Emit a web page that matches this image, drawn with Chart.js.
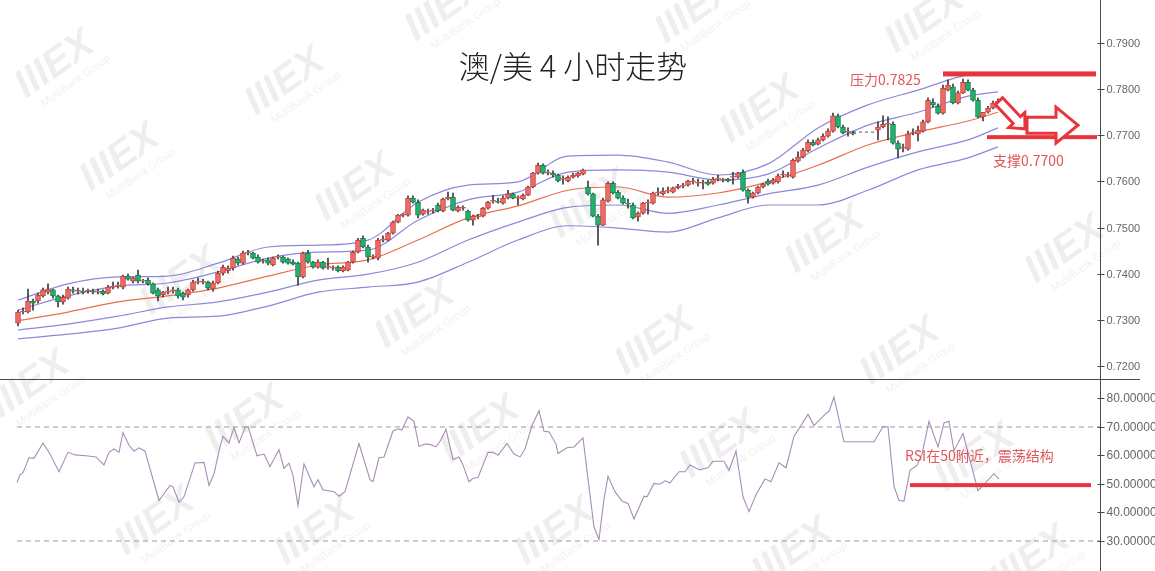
<!DOCTYPE html>
<html>
<head>
<meta charset="utf-8">
<script src="https://cdn.jsdelivr.net/npm/chart.js@4.4.1/dist/chart.umd.min.js"></script>
<style>
  html, body { margin: 0; padding: 0; background: #fff; }
  #wrap { position: relative; width: 1155px; height: 571px; overflow: hidden; }
  #priceChart { position: absolute; left: 0; top: 0; }
  #rsiChart { position: absolute; left: 0; top: 379px; }
</style>
</head>
<body>
<div id="wrap">
  <canvas id="priceChart" width="1155" height="379"></canvas>
  <canvas id="rsiChart" width="1155" height="192"></canvas>
</div>
<script>
// AUD/USD 4h candles (index = bar number, null = no bar)
const opens = [
  .7293,.7317,.7317,.7341,.7341,.7352,.7360,.7365,.7352,.7339,.7347,.7365,.7362,.7362,.7362,.7362,.7360,.7362,.7358,.7371,
  .7373,.7371,.7395,.7384,.7397,.7384,.7386,.7378,.7365,.7354,.7360,.7362,.7365,.7358,.7354,.7365,.7382,.7382,.7382,.7367,
  .7380,.7401,.7406,.7412,.7432,.7423,.7445,.7445,.7436,.7427,.7430,.7419,.7436,.7436,.7432,.7425,.7423,.7393,.7445,.7425,
  .7414,.7425,.7414,.7412,.7414,.7406,.7408,.7425,.7447,.7477,.7458,.7436,.7434,.7473,.7473,.7488,.7512,.7527,.7527,.7564,
  .7555,.7529,.7534,.7536,.7549,.7536,.7562,.7566,.7536,.7542,.7536,.7516,.7523,.7525,.7542,.7557,.7557,.7553,.7564,.7573,
  .7564,.7562,.7570,.7588,.7618,.7635,.7618,.7618,.7614,.7605,.7601,.7609,.7612,.7616,.7588,.7573,.7525,.7505,.7557,.7596,
  .7577,.7564,.7553,.7549,.7523,.7531,.7553,.7553,.7575,.7573,.7579,.7577,.7586,.7590,.7592,.7599,.7596,.7596,.7599,.7596,
  .7605,.7603,.7605,.7609,.7609,.7620,.7581,.7566,.7575,.7588,.7601,.7596,.7599,.7614,.7612,.7609,.7644,.7653,.7666,.7685,
  .7681,.7690,.7698,.7709,.7742,.7718,.7707,.7705,null,null,null,null,.7711,.7718,.7724,.7724,.7683,.7672,.7670,.7705,
  .7703,.7709,.7729,.7772,.7763,.7748,.7798,.7805,.7770,.7792,.7815,.7798,.7776,.7740,.7750,.7759,.7768
];
const highs = [
  .7321,.7326,.7367,.7345,.7358,.7369,.7378,.7367,.7354,.7354,.7371,.7371,.7369,.7369,.7367,.7367,.7367,.7365,.7375,.7382,
  .7382,.7397,.7399,.7393,.7408,.7388,.7391,.7380,.7369,.7362,.7371,.7371,.7369,.7360,.7367,.7386,.7391,.7388,.7384,.7384,
  .7406,.7419,.7417,.7438,.7436,.7449,.7451,.7447,.7441,.7432,.7434,.7436,.7441,.7438,.7434,.7430,.7425,.7447,.7451,.7427,
  .7430,.7427,.7434,.7417,.7417,.7417,.7427,.7449,.7477,.7482,.7462,.7441,.7477,.7482,.7490,.7514,.7529,.7531,.7569,.7569,
  .7560,.7540,.7540,.7542,.7553,.7564,.7577,.7575,.7547,.7547,.7538,.7527,.7529,.7544,.7557,.7570,.7564,.7569,.7581,.7575,
  .7569,.7573,.7590,.7620,.7640,.7638,.7625,.7623,.7616,.7612,.7612,.7618,.7620,.7627,.7601,.7575,.7529,.7564,.7599,.7599,
  .7581,.7569,.7562,.7553,.7534,.7555,.7560,.7577,.7586,.7586,.7588,.7588,.7594,.7596,.7603,.7607,.7605,.7603,.7603,.7609,
  .7614,.7607,.7607,.7620,.7620,.7625,.7584,.7577,.7590,.7596,.7605,.7607,.7616,.7623,.7620,.7649,.7664,.7672,.7690,.7690,
  .7694,.7703,.7714,.7748,.7746,.7722,.7716,.7709,null,null,null,null,.7729,.7742,.7740,.7729,.7688,.7681,.7709,.7714,
  .7720,.7733,.7781,.7779,.7768,.7809,.7820,.7811,.7796,.7822,.7820,.7802,.7781,.7750,.7763,.7774,.7779
];
const lows = [
  .7287,.7313,.7315,.7321,.7336,.7349,.7356,.7347,.7328,.7334,.7345,.7358,.7356,.7356,.7358,.7356,.7356,.7354,.7356,.7367,
  .7369,.7367,.7386,.7380,.7380,.7380,.7375,.7356,.7341,.7349,.7356,.7358,.7347,.7343,.7349,.7362,.7378,.7378,.7365,.7362,
  .7378,.7397,.7401,.7408,.7419,.7421,.7441,.7432,.7423,.7423,.7419,.7417,.7432,.7423,.7421,.7419,.7375,.7391,.7423,.7412,
  .7412,.7410,.7410,.7408,.7404,.7404,.7406,.7423,.7445,.7456,.7425,.7432,.7430,.7469,.7471,.7486,.7510,.7523,.7525,.7553,
  .7521,.7527,.7529,.7531,.7534,.7534,.7560,.7536,.7534,.7538,.7514,.7505,.7519,.7523,.7540,.7553,.7553,.7551,.7562,.7562,
  .7549,.7560,.7569,.7586,.7616,.7616,.7614,.7609,.7599,.7594,.7599,.7607,.7609,.7614,.7570,.7523,.7462,.7504,.7555,.7573,
  .7562,.7551,.7542,.7519,.7514,.7529,.7529,.7551,.7570,.7570,.7575,.7575,.7584,.7586,.7590,.7594,.7590,.7584,.7592,.7594,
  .7601,.7599,.7599,.7594,.7607,.7579,.7553,.7564,.7573,.7586,.7592,.7594,.7596,.7609,.7609,.7607,.7642,.7651,.7664,.7677,
  .7679,.7688,.7696,.7707,.7716,.7703,.7698,.7701,null,null,null,null,.7690,.7716,.7690,.7681,.7651,.7664,.7668,.7701,
  .7688,.7707,.7727,.7761,.7746,.7746,.7796,.7768,.7768,.7790,.7796,.7774,.7738,.7731,.7748,.7757,.7766
];
const closes = [
  .7317,.7319,.7341,.7336,.7354,.7365,.7367,.7352,.7339,.7349,.7367,.7362,.7362,.7360,.7362,.7360,.7362,.7356,.7371,.7373,
  .7375,.7395,.7388,.7391,.7384,.7384,.7378,.7358,.7352,.7360,.7362,.7365,.7352,.7349,.7365,.7382,.7382,.7382,.7369,.7380,
  .7401,.7414,.7412,.7434,.7423,.7445,.7445,.7434,.7425,.7427,.7423,.7434,.7438,.7425,.7423,.7421,.7393,.7445,.7425,.7414,
  .7425,.7412,.7414,.7412,.7406,.7414,.7425,.7447,.7473,.7458,.7436,.7436,.7473,.7473,.7488,.7512,.7527,.7527,.7564,.7555,
  .7527,.7538,.7534,.7538,.7536,.7562,.7566,.7538,.7544,.7542,.7516,.7525,.7525,.7542,.7555,.7557,.7555,.7564,.7573,.7564,
  .7564,.7570,.7588,.7618,.7635,.7618,.7618,.7614,.7601,.7605,.7609,.7614,.7618,.7625,.7573,.7525,.7505,.7560,.7596,.7575,
  .7564,.7553,.7551,.7521,.7531,.7553,.7553,.7575,.7575,.7579,.7579,.7586,.7590,.7590,.7601,.7599,.7596,.7596,.7594,.7605,
  .7605,.7603,.7601,.7609,.7618,.7581,.7566,.7575,.7588,.7594,.7594,.7603,.7612,.7614,.7612,.7646,.7653,.7668,.7685,.7679,
  .7690,.7698,.7709,.7742,.7718,.7705,.7707,.7703,null,null,null,null,.7718,.7724,.7724,.7683,.7670,.7672,.7703,.7705,
  .7711,.7729,.7776,.7766,.7748,.7802,.7809,.7770,.7792,.7815,.7798,.7776,.7740,.7750,.7759,.7770,.7774
];

// gap bridge drawn dashed between the bars around the weekend
const gapIdx = [167, 172];
const gapVal = [.7707, .7707];

// Bollinger bands (bar index, price)
const bandIdx = [0, 10, 20, 30, 40, 50, 60, 70, 80, 90, 100, 110, 120, 130, 140, 150, 160, 170, 180, 190, 196];
const bandMid = [.7298,.7317,.7339,.7352,.7369,.7395,.7419,.7430,.7473,.7521,.7547,.7581,.7588,.7566,.7575,.7599,.7635,.7679,.7707,.7731,.7750];
const bandUp1 = [.7321,.7352,.7373,.7380,.7404,.7434,.7447,.7451,.7516,.7560,.7577,.7620,.7625,.7620,.7603,.7616,.7672,.7722,.7750,.7785,.7794];
const bandUp2 = [.7343,.7378,.7393,.7395,.7423,.7458,.7462,.7473,.7555,.7592,.7599,.7655,.7657,.7642,.7614,.7638,.7716,.7766,.7798,.7831,.7835];
const bandLo1 = [.7278,.7291,.7308,.7328,.7339,.7360,.7386,.7399,.7425,.7473,.7512,.7544,.7549,.7531,.7549,.7573,.7592,.7631,.7664,.7690,.7716];
const bandLo2 = [.7259,.7269,.7282,.7304,.7308,.7330,.7360,.7371,.7382,.7425,.7473,.7504,.7499,.7490,.7521,.7549,.7549,.7581,.7625,.7651,.7675];

const priceTicks = [0.72, 0.73, 0.74, 0.75, 0.76, 0.77, 0.78, 0.79];

// RSI (bar index, value)
const rsiIdx = [
  -0.2,0.4,1,2.2,3.2,5,6.4,8.2,10,11.4,13.6,15.6,17.2,18.2,19.2,20.2,21,22.2,23.2,24.2,
  25.4,28.2,30.4,31,32.2,33.2,35.4,37.2,38.2,39.2,40.4,41,42.2,43.2,44.2,45.4,46,47.8,49.2,50.4,
  52.2,53.2,54.2,55,56,57.2,59.2,60,61,63.2,64.2,65.4,68.2,70.4,71,72.2,73.2,75,76,76.8,
  78,79.2,80.2,81.4,82.4,83.6,84.6,85.6,87,88.2,89,90.2,91,92,94,95,96,97.8,99.2,100.4,
  101.4,102.8,104.2,105.2,106.2,107.6,108,109.8,111.2,113,114,115.2,116.2,117.2,118,119.4,120.8,122,123.2,125.2,
  125.8,127.2,128.4,129.4,130.4,132.2,133.4,134.4,136.2,138,139,141.2,142.2,143.6,145,146.2,147.6,149.4,150.6,152.2,
  153.6,155.2,158,159.2,161.6,162.2,163.2,165.2,171.2,173,174,175.2,176.2,177.2,178.4,179.8,180.8,182.2,184,185.2,
  186.2,187.2,189,192,195.2,196.2
];
const rsiVal = [
  50.5,53.2,54,59.2,59,64.4,60.5,54.3,61.1,60.2,59.9,59.5,56.7,61.1,62.3,61.1,68,63.6,61.5,62.7,
  61.5,44.2,49.5,49,43.6,45.5,57.4,57.6,49.5,53.6,63,66.7,64.4,69.8,64.4,69.8,70.2,59.9,60.5,56.1,
  62,55.5,57.3,53,42.4,57,49,51.5,48,47.3,45.7,47.3,64.2,51.5,50.8,59.2,59.5,68.6,69.3,69,
  73.6,72,63.2,64,63.9,63,65.5,69.2,58.6,59.5,56.7,50.8,52,52.3,61.1,61.1,60.1,64.2,60.5,59.5,
  62.3,70.5,75.7,68.5,68.3,64,60.7,62.7,63,66.2,51.8,34.9,30.5,44.8,52.7,47.3,44,43.2,37.7,45.7,
  45.5,50.2,49.9,51.1,50.4,54.3,54.3,56.7,55,55.7,58,58,54.8,61.5,45.5,40.3,46.2,51.8,50.8,57.4,
  55.7,66.7,74.4,70.5,74.8,75.5,80.5,64.8,64.8,70.1,70.1,49.2,44.2,44,54.8,56.5,60.5,72,63,71.4,
  72,61.7,67.7,47.7,53.6,51.7
];
const rsiTicks = [30, 40, 50, 60, 70, 80];
const rsiLevels = [70, 30];

// shared geometry of the horizontal axis (bar index units)
const X_MIN = -3.6, X_MAX = 216.4;

const UP_FILL = '#ec6b67', UP_LINE = '#c5423e';
const DN_FILL = '#23b06f', DN_LINE = '#14804f';
const WICK = '#3c3c3c';
const BAND = '#8f87da';
const MID = '#e8714f';
const RED = '#e8353b';

// faint background logo stamps (page pixels)
const MARKS = [
  [55, 65], [285, 82], [445, 8], [695, 10], [760, 110], [925, 20], [120, 158], [355, 188],
  [590, 205], [825, 240], [1065, 250], [180, 282], [415, 315], [655, 342], [900, 352], [30, 385],
  [245, 420], [480, 430], [720, 445], [975, 458], [155, 522], [315, 532], [555, 532], [792, 552], [1030, 560]
];

const pts = (xs, ys) => xs.map((x, i) => ({ x: x, y: ys[i] }));

// candles
const barIdx = opens.map((o, i) => i).filter(i => opens[i] !== null);
const isUp = i => closes[i] >= opens[i];
const wickData = barIdx.map(i => ({ x: i, y: [lows[i], highs[i]] }));
const bodyData = barIdx.map(i => ({ x: i, y: [opens[i], closes[i]] }));

const watermark = {
  id: 'watermark',
  beforeDraw(chart, args, opts) {
    const ctx = chart.ctx;
    ctx.save();
    ctx.fillStyle = 'rgba(0,0,0,0.065)';
    ctx.textAlign = 'center';
    ctx.textBaseline = 'middle';
    MARKS.forEach(([x, y]) => {
      ctx.save();
      ctx.translate(x, y - opts.top);
      ctx.rotate(-35 * Math.PI / 180);
      ctx.font = 'bold italic 40px "Liberation Sans", Arial, sans-serif';
      ctx.fillText('IIIEX', 0, 0);
      ctx.font = '11px "Liberation Sans", Arial, sans-serif';
      ctx.fillText('MultiBank Group', 8, 25);
      ctx.restore();
    });
    ctx.restore();
  }
};

// draws the right-hand value axis: line, crossing ticks, labels
const rightAxis = {
  id: 'rightAxis',
  afterDraw(chart, args, opts) {
    const { ctx, chartArea } = chart;
    const ys = chart.scales.y;
    const xr = Math.round(chartArea.right) + 0.5;
    ctx.save();
    ctx.strokeStyle = '#4a4a4a';
    ctx.lineWidth = 1;
    ctx.beginPath();
    ctx.moveTo(xr, 0);
    ctx.lineTo(xr, chart.height);
    ctx.stroke();
    if (opts.topRule) {
      ctx.beginPath();
      ctx.moveTo(0, 0.5);
      ctx.lineTo(1140, 0.5);
      ctx.stroke();
    }
    ctx.font = opts.fontSize + 'px "Liberation Sans", Arial, sans-serif';
    ctx.fillStyle = '#666';
    ctx.textAlign = 'left';
    ctx.textBaseline = 'middle';
    opts.ticks.forEach(v => {
      const y = Math.round(ys.getPixelForValue(v)) + 0.5;
      ctx.beginPath();
      ctx.moveTo(xr - 3, y);
      ctx.lineTo(xr + 4, y);
      ctx.stroke();
      ctx.fillText(v.toFixed(opts.decimals), xr + 6, y);
    });
    ctx.restore();
  }
};

function hollowArrow(ctx, x0, y0, x1, y1, shaftW, headL, headW) {
  const a = Math.atan2(y1 - y0, x1 - x0);
  const len = Math.hypot(x1 - x0, y1 - y0);
  const shape = [
    [0, -shaftW], [len - headL, -shaftW], [len - headL, -headW], [len, 0],
    [len - headL, headW], [len - headL, shaftW], [0, shaftW]
  ];
  ctx.beginPath();
  shape.forEach(([u, v], k) => {
    const px = x0 + u * Math.cos(a) - v * Math.sin(a);
    const py = y0 + u * Math.sin(a) + v * Math.cos(a);
    if (k === 0) ctx.moveTo(px, py); else ctx.lineTo(px, py);
  });
  ctx.closePath();
  ctx.fillStyle = '#fff';
  ctx.fill();
  ctx.stroke();
}

// title, resistance / support marks and arrows on the price panel
const priceNotes = {
  id: 'priceNotes',
  afterDraw(chart) {
    const { ctx } = chart;
    const xs = chart.scales.x, ys = chart.scales.y;
    ctx.save();
    ctx.fillStyle = '#222';
    ctx.font = '300 31px "Noto Sans CJK SC", sans-serif';
    ctx.textAlign = 'center';
    ctx.textBaseline = 'middle';
    ctx.fillText('澳/美 4 小时走势', 573, 66);

    ctx.fillStyle = RED;
    const band = (i0, i1, v, h) => {
      const y = ys.getPixelForValue(v);
      ctx.fillRect(xs.getPixelForValue(i0), y - h / 2, xs.getPixelForValue(i1) - xs.getPixelForValue(i0), h);
    };
    band(185, 215.6, 0.7833, 5);
    band(193.8, 215.8, 0.7696, 4);

    ctx.fillStyle = '#e0575a';
    ctx.font = '14px "Noto Sans CJK SC", sans-serif';
    ctx.textAlign = 'left';
    ctx.fillText('压力0.7825', xs.getPixelForValue(166.4), ys.getPixelForValue(0.7820));
    ctx.fillText('支撑0.7700', xs.getPixelForValue(195), ys.getPixelForValue(0.7644));

    ctx.strokeStyle = RED;
    ctx.lineWidth = 3;
    ctx.lineJoin = 'miter';
    hollowArrow(ctx, xs.getPixelForValue(196.2), ys.getPixelForValue(0.7774),
      xs.getPixelForValue(201.4), ys.getPixelForValue(0.7714), 5, 12, 11);
    hollowArrow(ctx, xs.getPixelForValue(201.8), ys.getPixelForValue(0.7722),
      xs.getPixelForValue(212), ys.getPixelForValue(0.7722), 8, 22, 18);
    ctx.restore();
  }
};

new Chart(document.getElementById('priceChart'), {
  type: 'bar',
  data: {
    datasets: [
      { type: 'bar', data: bodyData, order: 0, grouped: false, barThickness: 5, minBarLength: 1,
        backgroundColor: barIdx.map(i => isUp(i) ? UP_FILL : DN_FILL),
        borderColor: barIdx.map(i => isUp(i) ? UP_LINE : DN_LINE),
        borderWidth: 1, borderSkipped: false },
      { type: 'bar', data: wickData, order: 1, grouped: false, barThickness: 1,
        backgroundColor: WICK, borderWidth: 0 },
      { type: 'line', data: pts(gapIdx, gapVal), order: 2, borderColor: '#555', borderWidth: 1,
        borderDash: [3, 3], pointRadius: 0 },
      { type: 'line', data: pts(bandIdx, bandMid), order: 3, borderColor: MID, borderWidth: 1.2,
        pointRadius: 0, cubicInterpolationMode: 'monotone' },
      { type: 'line', data: pts(bandIdx, bandUp1), order: 3, borderColor: BAND, borderWidth: 1.2,
        pointRadius: 0, cubicInterpolationMode: 'monotone' },
      { type: 'line', data: pts(bandIdx, bandUp2), order: 3, borderColor: BAND, borderWidth: 1.2,
        pointRadius: 0, cubicInterpolationMode: 'monotone' },
      { type: 'line', data: pts(bandIdx, bandLo1), order: 3, borderColor: BAND, borderWidth: 1.2,
        pointRadius: 0, cubicInterpolationMode: 'monotone' },
      { type: 'line', data: pts(bandIdx, bandLo2), order: 3, borderColor: BAND, borderWidth: 1.2,
        pointRadius: 0, cubicInterpolationMode: 'monotone' }
    ]
  },
  options: {
    responsive: false,
    animation: false,
    devicePixelRatio: 1,
    layout: { padding: { left: 0, right: 55, top: 0, bottom: 0 } },
    scales: {
      x: { type: 'linear', min: X_MIN, max: X_MAX, offset: false, display: false },
      y: { type: 'linear', min: 0.71719, max: 0.79932, display: false }
    },
    plugins: {
      legend: { display: false },
      tooltip: { enabled: false },
      watermark: { top: 0 },
      rightAxis: { ticks: priceTicks, decimals: 4, fontSize: 11, topRule: false }
    }
  },
  plugins: [watermark, rightAxis, priceNotes]
});

// RSI panel notes
const rsiNotes = {
  id: 'rsiNotes',
  afterDraw(chart) {
    const { ctx } = chart;
    const xs = chart.scales.x, ys = chart.scales.y;
    ctx.save();
    ctx.fillStyle = RED;
    const y = ys.getPixelForValue(49.6);
    ctx.fillRect(xs.getPixelForValue(178.4), y - 2, xs.getPixelForValue(214.6) - xs.getPixelForValue(178.4), 4);
    ctx.fillStyle = '#e0575a';
    ctx.font = '14px "Noto Sans CJK SC", sans-serif';
    ctx.textBaseline = 'middle';
    ctx.fillText('RSI在50附近，震荡结构', xs.getPixelForValue(177.4), ys.getPixelForValue(59.8));
    ctx.restore();
  }
};

new Chart(document.getElementById('rsiChart'), {
  type: 'line',
  data: {
    datasets: [
      { data: pts(rsiIdx, rsiVal), borderColor: '#a98cb6', borderWidth: 1.1, pointRadius: 0, tension: 0 },
      ...rsiLevels.map(v => ({ data: [{ x: -0.2, y: v }, { x: X_MAX, y: v }], borderColor: '#9a9a9a',
        borderWidth: 1, borderDash: [5, 4], pointRadius: 0 }))
    ]
  },
  options: {
    responsive: false,
    animation: false,
    devicePixelRatio: 1,
    layout: { padding: { left: 0, right: 55, top: 0, bottom: 0 } },
    scales: {
      x: { type: 'linear', min: X_MIN, max: X_MAX, offset: false, display: false },
      y: { type: 'linear', min: 19.47, max: 86.84, display: false }
    },
    plugins: {
      legend: { display: false },
      tooltip: { enabled: false },
      watermark: { top: 379 },
      rightAxis: { ticks: rsiTicks, decimals: 5, fontSize: 12, topRule: true }
    }
  },
  plugins: [watermark, rightAxis, rsiNotes]
});
</script>
</body>
</html>
